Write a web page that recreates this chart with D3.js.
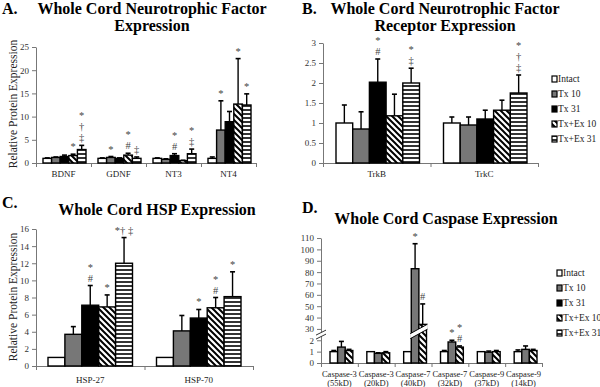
<!DOCTYPE html>
<html>
<head>
<meta charset="utf-8">
<script src="https://cdn.jsdelivr.net/npm/d3@7"></script>
<style>
  body { margin: 0; background: #fff; }
  svg { font-family: "Liberation Serif", "Times New Roman", serif; }
  .axis path, .axis line { stroke: #777; }
  .axis text { fill: #333; font-size: 9px; }
</style>
</head>
<body>
<div id="container"></div>
<script>
/* CONSTANTS AND GLOBALS */
const width = 600, height = 387;

const seriesNames = ["Intact", "Tx 10", "Tx 31", "Tx+Ex 10", "Tx+Ex 31"];

// A. neurotrophic factors
const ntfCategories = ["BDNF", "GDNF", "NT3", "NT4"];
const ntfMeans = [
  [1, 1.2, 1.4, 1.6, 2.9],
  [1, 1.2, 1.0, 1.7, 1.0],
  [1, 0.8, 1.6, 0.5, 2.0],
  [1, 7.1, 8.9, 12.7, 12.5]
];
const ntfErrors = [
  [0.1, 0.1, 0.3, 0.3, 0.9],
  [0.1, 0.2, 0.1, 0.4, 0.3],
  [0.1, 0.1, 0.4, 0.1, 1.0],
  [0.3, 6.3, 2.2, 9.8, 2.4]
];
const ntfMarks = [
  ["", "", "", "*", "*\n†\n‡"],
  ["", "*", "", "*\n#", "‡"],
  ["", "", "*\n#", "", "*\n‡"],
  ["", "*", "", "*", "*"]
];

// B. receptors
const recCategories = ["TrkB", "TrkC"];
const recMeans = [
  [1.0, 0.85, 2.02, 1.18, 2.0],
  [1.0, 0.95, 1.1, 1.32, 1.75]
];
const recErrors = [
  [0.45, 0.43, 0.58, 0.54, 0.37],
  [0.15, 0.2, 0.22, 0.25, 0.45]
];
const recMarks = [
  ["", "", "*\n#", "", "*\n‡"],
  ["", "", "", "", "*\n†\n‡"]
];

// C. HSP
const hspCategories = ["HSP-27", "HSP-70"];
const hspMeans = [
  [1, 3.7, 7.1, 6.9, 12.0],
  [1, 4.1, 5.6, 6.8, 8.1]
];
const hspErrors = [
  [0, 0.9, 2.3, 1.4, 3.0],
  [0, 1.8, 1.0, 1.2, 2.9]
];
const hspMarks = [
  ["", "", "*\n#", "*", "*† ‡"],
  ["", "", "*", "*\n#", "*"]
];

// D. caspases (only three groups measured)
const caspSeries = ["Intact", "Tx 10", "Tx+Ex 10"];
const caspCategories = ["Caspase-3 (55kD)", "Caspase-3 (20kD)", "Caspase-7 (40kD)",
  "Caspase-7 (32kD)", "Caspase-9 (37kD)", "Caspase-9 (14kD)"];
const caspMeans = [
  [1, 1.4, 1.1],
  [1, 0.85, 0.9],
  [1, 83, 34],
  [1, 1.85, 1.4],
  [1, 0.95, 1.0],
  [1, 1.2, 1.1]
];
const caspErrors = [
  [0.1, 0.5, 0.1],
  [0, 0.05, 0.1],
  [0, 22, 18],
  [0.1, 0.15, 0.1],
  [0, 0.1, 0.1],
  [0.15, 0.3, 0.1]
];
const caspMarks = [
  ["", "", ""],
  ["", "", ""],
  ["", "*", "#"],
  ["", "*", "*\n#"],
  ["", "", ""],
  ["", "", ""]
];
const caspTicks = [0, 1, 2, 30, 40, 50, 60, 70, 80, 90, 100, 110];

const fills = {
  "Intact": "#fff",
  "Tx 10": "#777",
  "Tx 31": "#000",
  "Tx+Ex 10": "url(#diag)",
  "Tx+Ex 31": "url(#horiz)"
};

let svg = d3.select("#container").append("svg")
  .attr("width", width)
  .attr("height", height);

// patterns
const defs = svg.append("defs");
const diag = defs.append("pattern").attr("id", "diag")
  .attr("patternUnits", "userSpaceOnUse").attr("width", 6).attr("height", 6);
diag.append("rect").attr("width", 6).attr("height", 6).attr("fill", "#fff");
diag.append("path").attr("d", "M0,0L6,6M-3,3L3,9M3,-3L9,3")
  .attr("stroke", "#000").attr("stroke-width", 2);
const horiz = defs.append("pattern").attr("id", "horiz")
  .attr("patternUnits", "userSpaceOnUse").attr("width", 4).attr("height", 4);
horiz.append("rect").attr("width", 4).attr("height", 4).attr("fill", "#fff");
horiz.append("line").attr("x1", 0).attr("x2", 4).attr("y1", 2).attr("y2", 2)
  .attr("stroke", "#000").attr("stroke-width", 1.6);

function drawPanel(p) {
  const g = svg.append("g");
  const y = p.y;
  const x = d3.scaleBand().domain(p.categories).range([p.x0, p.x1]);
  const xs = d3.scaleBand().domain(p.series).range([p.padL, x.bandwidth() - p.padR]);

  // + AXES
  g.append("g").attr("class", "axis")
    .attr("transform", `translate(${p.x0},0)`)
    .call(d3.axisLeft(y).tickValues(p.ticks).tickSize(4).tickSizeOuter(0).tickPadding(3).tickFormat(d => d))
    .attr("font-family", null)
    .attr("font-size", null);

  const xt = d3.scaleLinear().domain([0, p.categories.length]).range([p.x0, p.x1]);
  g.append("g").attr("class", "axis")
    .attr("transform", `translate(0,${y(0)})`)
    .call(d3.axisBottom(xt).tickValues(d3.range(p.categories.length + 1)).tickSize(4).tickSizeOuter(0).tickFormat(""));

  // category labels, two lines if there is a space in it (caspases)
  p.categories.forEach(c => {
    const parts = p.twoLine ? c.split(" ") : [c];
    parts.forEach((t, k) => {
      g.append("text")
        .attr("x", x(c) + x.bandwidth() / 2)
        .attr("y", y(0) + p.labelDy + k * 9)
        .attr("text-anchor", "middle")
        .attr("font-size", p.labelSize)
        .attr("fill", "#222")
        .text(t);
    });
  });

  const rows = [];
  p.categories.forEach((c, i) => p.series.forEach((s, j) => {
    rows.push({ c, s, v: p.means[i][j], e: p.errors[i][j], m: p.marks[i][j] });
  }));

  // + BARS
  g.selectAll(".bar")
    .data(rows)
    .join("rect")
    .attr("class", "bar")
    .attr("x", d => x(d.c) + xs(d.s))
    .attr("width", xs.bandwidth())
    .attr("y", d => y(d.v))
    .attr("height", d => y(0) - y(d.v))
    .attr("fill", d => fills[d.s])
    .attr("stroke", "#000")
    .attr("stroke-width", 1.4);

  // error bars (upper only)
  const eb = rows.filter(d => d.e > 0);
  g.selectAll(".err")
    .data(eb)
    .join("line")
    .attr("class", "err")
    .attr("x1", d => x(d.c) + xs(d.s) + xs.bandwidth() / 2)
    .attr("x2", d => x(d.c) + xs(d.s) + xs.bandwidth() / 2)
    .attr("y1", d => y(d.v))
    .attr("y2", d => y(d.v + d.e))
    .attr("stroke", "#000")
    .attr("stroke-width", 1.4);
  g.selectAll(".cap")
    .data(eb)
    .join("line")
    .attr("class", "cap")
    .attr("x1", d => x(d.c) + xs(d.s) + xs.bandwidth() / 2 - 2.5)
    .attr("x2", d => x(d.c) + xs(d.s) + xs.bandwidth() / 2 + 2.5)
    .attr("y1", d => y(d.v + d.e))
    .attr("y2", d => y(d.v + d.e))
    .attr("stroke", "#000")
    .attr("stroke-width", 1.6);

  // axis break across tall bars
  if (p.breakAt) {
    const yb = (y(p.breakAt[0]) + y(p.breakAt[1])) / 2;
    rows.filter(d => d.v > p.breakAt[0]).forEach(d => {
      const xc = x(d.c) + x.bandwidth() / 2;
      const bx0 = x(d.c) + xs(d.s) - 1, bx1 = bx0 + xs.bandwidth() + 2;
      const ly = xx => yb - 0.55 * (xx - xc);
      g.append("path")
        .attr("d", `M${bx0},${ly(bx0) - 2.5}L${bx1},${ly(bx1) - 2.5}L${bx1},${ly(bx1) + 2.5}L${bx0},${ly(bx0) + 2.5}Z`)
        .attr("fill", "#fff");
      g.append("path")
        .attr("d", `M${bx0},${ly(bx0) - 2.5}L${bx1},${ly(bx1) - 2.5}M${bx0},${ly(bx0) + 2.5}L${bx1},${ly(bx1) + 2.5}`)
        .attr("stroke", "#000").attr("stroke-width", 1);
    });
    // slashes on the y axis
    const ax = p.x0, ly = xx => yb - 0.5 * (xx - ax);
    g.append("path")
      .attr("d", `M${ax - 5},${ly(ax - 5) - 2}L${ax + 5},${ly(ax + 5) - 2}L${ax + 5},${ly(ax + 5) + 2}L${ax - 5},${ly(ax - 5) + 2}Z`)
      .attr("fill", "#fff");
    g.append("path")
      .attr("d", `M${ax - 5},${ly(ax - 5) - 2}L${ax + 5},${ly(ax + 5) - 2}M${ax - 5},${ly(ax - 5) + 2}L${ax + 5},${ly(ax + 5) + 2}`)
      .attr("stroke", "#333").attr("stroke-width", 1);
  }

  // significance marks
  rows.filter(d => d.m).forEach(d => {
    const lines = d.m.split("\n");
    const cx = x(d.c) + xs(d.s) + xs.bandwidth() / 2;
    const top = y(d.v + d.e);
    lines.forEach((t, k) => {
      g.append("text")
        .attr("x", cx)
        .attr("y", top - 4 - (lines.length - 1 - k) * 11)
        .attr("text-anchor", "middle")
        .attr("font-size", 10.5)
        .attr("fill", "#444")
        .text(t);
    });
  });

  return g;
}

function drawLegend(x0, y0) {
  const lg = svg.append("g").attr("transform", `translate(${x0},${y0})`);
  seriesNames.forEach((s, i) => {
    lg.append("rect")
      .attr("x", 0).attr("y", i * 15 - 6)
      .attr("width", 5).attr("height", 6)
      .attr("fill", fills[s]).attr("stroke", "#000").attr("stroke-width", 1.2);
    lg.append("text")
      .attr("x", 6).attr("y", i * 15)
      .attr("font-size", 9.5)
      .attr("fill", "#222")
      .text(s);
  });
}

function title(txt, x, y, anchor) {
  svg.append("text")
    .attr("x", x).attr("y", y)
    .attr("text-anchor", anchor || "middle")
    .attr("font-size", 16)
    .attr("font-weight", "bold")
    .text(txt);
}

function yLabel(txt, x, y) {
  svg.append("text")
    .attr("transform", `translate(${x},${y}) rotate(-90)`)
    .attr("text-anchor", "middle")
    .attr("font-size", 11.5)
    .attr("fill", "#222")
    .text(txt);
}

/* PANEL A */
drawPanel({
  categories: ntfCategories, series: seriesNames, means: ntfMeans, errors: ntfErrors, marks: ntfMarks,
  x0: 36, x1: 256, padL: 7, padR: 5,
  y: d3.scaleLinear().domain([0, 25]).range([163, 47]),
  ticks: d3.range(0, 26, 5), labelDy: 14, labelSize: 9
});
title("A.", 2, 14, "start");
title("Whole Cord Neurotrophic Factor", 152, 14);
title("Expression", 152, 31);
yLabel("Relative Protein Expression", 17, 104);

/* PANEL B */
drawPanel({
  categories: recCategories, series: seriesNames, means: recMeans, errors: recErrors, marks: recMarks,
  x0: 323, x1: 538, padL: 13, padR: 11,
  y: d3.scaleLinear().domain([0, 3]).range([163, 43]),
  ticks: d3.range(0, 3.01, 0.5), labelDy: 14, labelSize: 9
});
title("B.", 302, 14, "start");
title("Whole Cord Neurotrophic Factor", 445, 14);
title("Receptor Expression", 445, 31);
drawLegend(552, 82);

/* PANEL C */
drawPanel({
  categories: hspCategories, series: seriesNames, means: hspMeans, errors: hspErrors, marks: hspMarks,
  x0: 36, x1: 253, padL: 12, padR: 12,
  y: d3.scaleLinear().domain([0, 16]).range([366, 229]),
  ticks: d3.range(0, 17, 2), labelDy: 17, labelSize: 9
});
title("C.", 2, 208, "start");
title("Whole Cord HSP Expression", 157, 215);
yLabel("Relative Protein Expression", 17, 297);

/* PANEL D */
const s = 11.36, yD0 = 363;
drawPanel({
  categories: caspCategories, series: caspSeries, means: caspMeans, errors: caspErrors, marks: caspMarks,
  x0: 321, x1: 542, padL: 9, padR: 5,
  y: d3.scaleLinear().domain([0, 2, 30, 110]).range([yD0, yD0 - 2 * s, yD0 - 3 * s, yD0 - 11 * s]),
  ticks: caspTicks, labelDy: 14, labelSize: 8.5, twoLine: true, breakAt: [2, 30]
});
title("D.", 302, 213, "start");
title("Whole Cord Caspase Expression", 446, 224);
drawLegend(557, 276);
</script>
</body>
</html>
